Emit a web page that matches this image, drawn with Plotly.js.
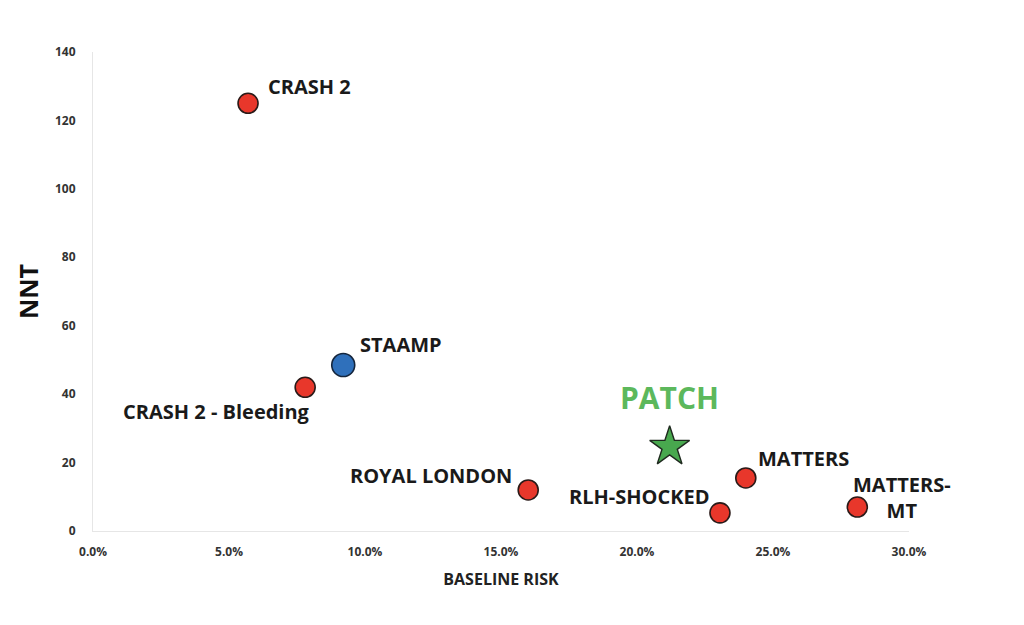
<!DOCTYPE html>
<html>
<head>
<meta charset="utf-8">
<script src="https://cdn.plot.ly/plotly-3.0.1.min.js"></script>
<style>
  html, body { margin: 0; padding: 0; background: #fff; }
  #plot { width: 1024px; height: 625px; }
</style>
</head>
<body>
<div id="plot"></div>
<script>
// data
const trials = ['CRASH 2', 'CRASH 2 - Bleeding', 'ROYAL LONDON', 'RLH-SHOCKED', 'MATTERS', 'MATTERS-<br>MT'];
const trialRisk = [0.057, 0.078, 0.160, 0.2305, 0.240, 0.281];
const trialNnt = [125, 42, 12, 5.3, 15.5, 7];

const staampRisk = [0.092];
const staampNnt = [48.5];

const patchRisk = [0.212];
const patchNnt = [24.6];

const xTicks = [0, 0.05, 0.10, 0.15, 0.20, 0.25, 0.30];
const yTicks = [0, 20, 40, 60, 80, 100, 120, 140];

// label placement (pixels relative to the point)
const labelStyle = [
  {xa: 'left', dx: 18, dy: 17},
  {xa: 'right', dx: 7, dy: -24},
  {xa: 'right', dx: -14, dy: 14},
  {xa: 'right', dx: -8, dy: 16},
  {xa: 'left', dx: 10, dy: 19},
  {xa: 'left', dx: -6, dy: 10}
];

const labelFont = {family: 'Open Sans, sans-serif', size: 20, color: '#1a1a1a', weight: 'bold'};

let annotations = trials.map(function(name, i) {
  const s = labelStyle[i];
  return {
    x: trialRisk[i], y: trialNnt[i], xref: 'x', yref: 'y',
    text: name, showarrow: false,
    xanchor: s.xa, yanchor: 'middle', xshift: s.dx, yshift: s.dy,
    align: i === 5 ? 'center' : 'left',
    font: labelFont
  };
});

annotations.push({
  x: staampRisk[0], y: staampNnt[0], xref: 'x', yref: 'y',
  text: 'STAAMP', showarrow: false,
  xanchor: 'left', yanchor: 'middle', xshift: 15, yshift: 21,
  font: labelFont
});

annotations.push({
  x: patchRisk[0], y: patchNnt[0], xref: 'x', yref: 'y',
  text: 'PATCH', showarrow: false,
  xanchor: 'center', yanchor: 'middle', xshift: 0, yshift: 49,
  font: {family: 'Open Sans, sans-serif', size: 30, color: '#5cb85c', weight: 'bold'}
});

let trace1 = {
  x: trialRisk, y: trialNnt,
  mode: 'markers', type: 'scatter',
  marker: {size: 20, color: '#e8372b', line: {color: '#2a1a18', width: 1.6}}
};

let trace2 = {
  x: staampRisk, y: staampNnt,
  mode: 'markers', type: 'scatter',
  marker: {size: 23, color: '#2f70bb', line: {color: '#15263d', width: 1.6}}
};

let trace3 = {
  x: patchRisk, y: patchNnt,
  mode: 'markers', type: 'scatter',
  marker: {symbol: 'star', size: 30, color: '#48a84e', line: {color: '#1f2a1f', width: 1.4}}
};

let layout = {
  width: 1024, height: 625,
  margin: {l: 93, r: 115, t: 52, b: 94},
  paper_bgcolor: '#fff', plot_bgcolor: '#fff',
  showlegend: false,
  font: {family: 'Open Sans, sans-serif'},
  xaxis: {
    range: [0, 0.30],
    tickvals: xTicks, tickformat: '.1%',
    showgrid: false, zeroline: false,
    showline: true, linecolor: '#e6e6e6', linewidth: 1,
    ticks: '', ticklabelstandoff: 10,
    tickfont: {size: 12, color: '#333', weight: 'bold'},
    title: {text: 'BASELINE RISK', standoff: 14,
            font: {size: 16, color: '#222', weight: 'bold'}}
  },
  yaxis: {
    range: [0, 140],
    tickvals: yTicks,
    showgrid: false, zeroline: false,
    showline: true, linecolor: '#e6e6e6', linewidth: 1,
    ticks: '', ticklabelstandoff: 14,
    tickfont: {size: 12, color: '#333', weight: 'bold'},
    title: {text: 'NNT', standoff: 9,
            font: {size: 25, color: '#111', weight: 'bold'}}
  },
  annotations: annotations
};

Plotly.newPlot('plot', [trace1, trace2, trace3], layout, {displayModeBar: false, staticPlot: true});
</script>
</body>
</html>
